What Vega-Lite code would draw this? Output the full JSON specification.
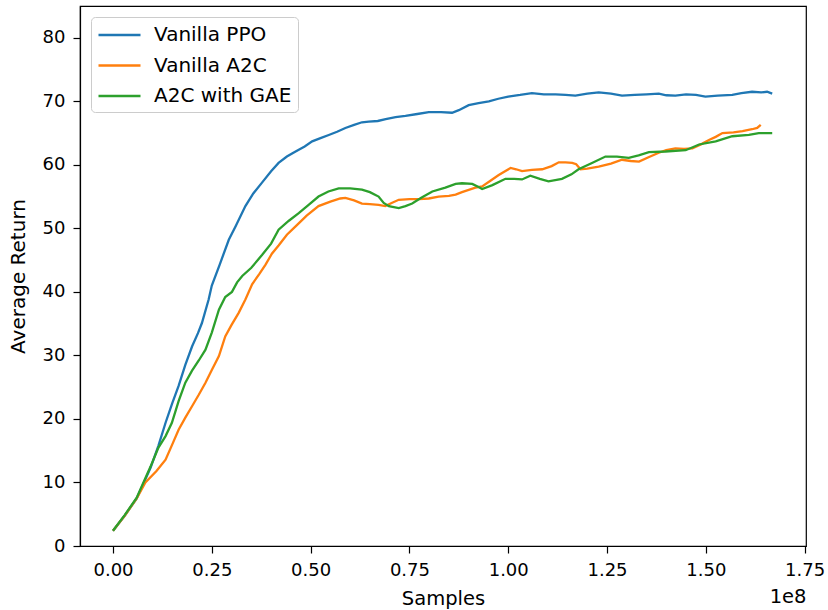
{
  "$schema": "https://vega.github.io/schema/vega-lite/v6.json",
  "width": 726,
  "height": 540,
  "autosize": {"type": "none"},
  "padding": {"left": 80, "top": 6, "right": 22, "bottom": 64},
  "background": "white",
  "config": {
    "font": "DejaVu Sans",
    "view": {"stroke": "black", "strokeWidth": 1.2},
    "axis": {"grid": false, "domainColor": "black", "domainWidth": 1.2, "tickColor": "black", "tickWidth": 1.2, "tickSize": 7, "labelColor": "black", "titleColor": "black", "labelFont": "DejaVu Sans", "titleFont": "DejaVu Sans", "titleFontWeight": "normal"}
  },
  "datasets": {
    "main": [
      {"algorithm":"Vanilla PPO","samples":0,"return":2.4},
      {"algorithm":"Vanilla PPO","samples":3000000,"return":4.8},
      {"algorithm":"Vanilla PPO","samples":6000000,"return":7.5},
      {"algorithm":"Vanilla PPO","samples":9500000,"return":12.3},
      {"algorithm":"Vanilla PPO","samples":11500000,"return":15.8},
      {"algorithm":"Vanilla PPO","samples":13300000,"return":19.4},
      {"algorithm":"Vanilla PPO","samples":15000000,"return":22.5},
      {"algorithm":"Vanilla PPO","samples":16600000,"return":25.2},
      {"algorithm":"Vanilla PPO","samples":18300000,"return":28.5},
      {"algorithm":"Vanilla PPO","samples":20000000,"return":31.4},
      {"algorithm":"Vanilla PPO","samples":21500000,"return":33.5},
      {"algorithm":"Vanilla PPO","samples":22500000,"return":35.1},
      {"algorithm":"Vanilla PPO","samples":24200000,"return":38.8},
      {"algorithm":"Vanilla PPO","samples":25000000,"return":41.0},
      {"algorithm":"Vanilla PPO","samples":27000000,"return":44.3},
      {"algorithm":"Vanilla PPO","samples":29300000,"return":48.2},
      {"algorithm":"Vanilla PPO","samples":31000000,"return":50.3},
      {"algorithm":"Vanilla PPO","samples":33500000,"return":53.5},
      {"algorithm":"Vanilla PPO","samples":35500000,"return":55.5},
      {"algorithm":"Vanilla PPO","samples":37700000,"return":57.2},
      {"algorithm":"Vanilla PPO","samples":40000000,"return":59.0},
      {"algorithm":"Vanilla PPO","samples":41900000,"return":60.3},
      {"algorithm":"Vanilla PPO","samples":44000000,"return":61.3},
      {"algorithm":"Vanilla PPO","samples":46200000,"return":62.1},
      {"algorithm":"Vanilla PPO","samples":48500000,"return":62.9},
      {"algorithm":"Vanilla PPO","samples":50400000,"return":63.7},
      {"algorithm":"Vanilla PPO","samples":52500000,"return":64.2},
      {"algorithm":"Vanilla PPO","samples":54600000,"return":64.7},
      {"algorithm":"Vanilla PPO","samples":56700000,"return":65.2},
      {"algorithm":"Vanilla PPO","samples":58800000,"return":65.8},
      {"algorithm":"Vanilla PPO","samples":61000000,"return":66.3},
      {"algorithm":"Vanilla PPO","samples":63000000,"return":66.7},
      {"algorithm":"Vanilla PPO","samples":64700000,"return":66.8},
      {"algorithm":"Vanilla PPO","samples":67000000,"return":66.9},
      {"algorithm":"Vanilla PPO","samples":69000000,"return":67.2},
      {"algorithm":"Vanilla PPO","samples":71500000,"return":67.5},
      {"algorithm":"Vanilla PPO","samples":74000000,"return":67.7},
      {"algorithm":"Vanilla PPO","samples":77000000,"return":68.0},
      {"algorithm":"Vanilla PPO","samples":79900000,"return":68.3},
      {"algorithm":"Vanilla PPO","samples":83000000,"return":68.3},
      {"algorithm":"Vanilla PPO","samples":85800000,"return":68.2},
      {"algorithm":"Vanilla PPO","samples":87500000,"return":68.6},
      {"algorithm":"Vanilla PPO","samples":90000000,"return":69.4},
      {"algorithm":"Vanilla PPO","samples":92500000,"return":69.7},
      {"algorithm":"Vanilla PPO","samples":95100000,"return":70.0},
      {"algorithm":"Vanilla PPO","samples":97500000,"return":70.4},
      {"algorithm":"Vanilla PPO","samples":100000000,"return":70.75},
      {"algorithm":"Vanilla PPO","samples":103000000,"return":71.0},
      {"algorithm":"Vanilla PPO","samples":106000000,"return":71.3},
      {"algorithm":"Vanilla PPO","samples":109000000,"return":71.1},
      {"algorithm":"Vanilla PPO","samples":112000000,"return":71.1},
      {"algorithm":"Vanilla PPO","samples":114500000,"return":71.0},
      {"algorithm":"Vanilla PPO","samples":117000000,"return":70.9},
      {"algorithm":"Vanilla PPO","samples":120000000,"return":71.2},
      {"algorithm":"Vanilla PPO","samples":122900000,"return":71.4},
      {"algorithm":"Vanilla PPO","samples":126000000,"return":71.2},
      {"algorithm":"Vanilla PPO","samples":128800000,"return":70.9},
      {"algorithm":"Vanilla PPO","samples":132000000,"return":71.0},
      {"algorithm":"Vanilla PPO","samples":135000000,"return":71.1},
      {"algorithm":"Vanilla PPO","samples":138100000,"return":71.2},
      {"algorithm":"Vanilla PPO","samples":140000000,"return":70.95},
      {"algorithm":"Vanilla PPO","samples":142300000,"return":70.9},
      {"algorithm":"Vanilla PPO","samples":145000000,"return":71.1},
      {"algorithm":"Vanilla PPO","samples":147500000,"return":71.0},
      {"algorithm":"Vanilla PPO","samples":149900000,"return":70.75},
      {"algorithm":"Vanilla PPO","samples":153000000,"return":70.9},
      {"algorithm":"Vanilla PPO","samples":156700000,"return":71.0},
      {"algorithm":"Vanilla PPO","samples":159000000,"return":71.3},
      {"algorithm":"Vanilla PPO","samples":161700000,"return":71.5},
      {"algorithm":"Vanilla PPO","samples":164000000,"return":71.4},
      {"algorithm":"Vanilla PPO","samples":165500000,"return":71.5},
      {"algorithm":"Vanilla PPO","samples":166800000,"return":71.2},
      {"algorithm":"Vanilla A2C","samples":0,"return":2.4},
      {"algorithm":"Vanilla A2C","samples":3000000,"return":4.8},
      {"algorithm":"Vanilla A2C","samples":6000000,"return":7.5},
      {"algorithm":"Vanilla A2C","samples":8200000,"return":10.0},
      {"algorithm":"Vanilla A2C","samples":11000000,"return":11.8},
      {"algorithm":"Vanilla A2C","samples":13300000,"return":13.6},
      {"algorithm":"Vanilla A2C","samples":15000000,"return":16.0},
      {"algorithm":"Vanilla A2C","samples":16600000,"return":18.3},
      {"algorithm":"Vanilla A2C","samples":18300000,"return":20.2},
      {"algorithm":"Vanilla A2C","samples":20000000,"return":22.0},
      {"algorithm":"Vanilla A2C","samples":21700000,"return":23.8},
      {"algorithm":"Vanilla A2C","samples":23400000,"return":25.7},
      {"algorithm":"Vanilla A2C","samples":25000000,"return":27.7},
      {"algorithm":"Vanilla A2C","samples":26800000,"return":29.9},
      {"algorithm":"Vanilla A2C","samples":28400000,"return":33.0},
      {"algorithm":"Vanilla A2C","samples":30000000,"return":34.8},
      {"algorithm":"Vanilla A2C","samples":31800000,"return":36.7},
      {"algorithm":"Vanilla A2C","samples":33500000,"return":38.8},
      {"algorithm":"Vanilla A2C","samples":35200000,"return":41.2},
      {"algorithm":"Vanilla A2C","samples":37000000,"return":42.8},
      {"algorithm":"Vanilla A2C","samples":38600000,"return":44.3},
      {"algorithm":"Vanilla A2C","samples":40200000,"return":46.0},
      {"algorithm":"Vanilla A2C","samples":41900000,"return":47.3},
      {"algorithm":"Vanilla A2C","samples":44000000,"return":49.0},
      {"algorithm":"Vanilla A2C","samples":46200000,"return":50.3},
      {"algorithm":"Vanilla A2C","samples":49000000,"return":52.0},
      {"algorithm":"Vanilla A2C","samples":52000000,"return":53.5},
      {"algorithm":"Vanilla A2C","samples":55000000,"return":54.2},
      {"algorithm":"Vanilla A2C","samples":57500000,"return":54.7},
      {"algorithm":"Vanilla A2C","samples":58800000,"return":54.8},
      {"algorithm":"Vanilla A2C","samples":61000000,"return":54.4},
      {"algorithm":"Vanilla A2C","samples":63000000,"return":53.9},
      {"algorithm":"Vanilla A2C","samples":65000000,"return":53.8},
      {"algorithm":"Vanilla A2C","samples":67200000,"return":53.7},
      {"algorithm":"Vanilla A2C","samples":68900000,"return":53.5},
      {"algorithm":"Vanilla A2C","samples":70500000,"return":54.0},
      {"algorithm":"Vanilla A2C","samples":72300000,"return":54.5},
      {"algorithm":"Vanilla A2C","samples":75000000,"return":54.6},
      {"algorithm":"Vanilla A2C","samples":77400000,"return":54.6},
      {"algorithm":"Vanilla A2C","samples":79900000,"return":54.7},
      {"algorithm":"Vanilla A2C","samples":82400000,"return":55.0},
      {"algorithm":"Vanilla A2C","samples":85000000,"return":55.1},
      {"algorithm":"Vanilla A2C","samples":86700000,"return":55.3},
      {"algorithm":"Vanilla A2C","samples":88300000,"return":55.7},
      {"algorithm":"Vanilla A2C","samples":91700000,"return":56.4},
      {"algorithm":"Vanilla A2C","samples":93400000,"return":56.6},
      {"algorithm":"Vanilla A2C","samples":95500000,"return":57.5},
      {"algorithm":"Vanilla A2C","samples":97600000,"return":58.4},
      {"algorithm":"Vanilla A2C","samples":99200000,"return":59.0},
      {"algorithm":"Vanilla A2C","samples":100600000,"return":59.5},
      {"algorithm":"Vanilla A2C","samples":102000000,"return":59.3},
      {"algorithm":"Vanilla A2C","samples":103500000,"return":59.0},
      {"algorithm":"Vanilla A2C","samples":106000000,"return":59.2},
      {"algorithm":"Vanilla A2C","samples":108600000,"return":59.3},
      {"algorithm":"Vanilla A2C","samples":111000000,"return":59.8},
      {"algorithm":"Vanilla A2C","samples":112800000,"return":60.4},
      {"algorithm":"Vanilla A2C","samples":114500000,"return":60.4},
      {"algorithm":"Vanilla A2C","samples":116200000,"return":60.3},
      {"algorithm":"Vanilla A2C","samples":117200000,"return":60.1},
      {"algorithm":"Vanilla A2C","samples":118300000,"return":59.3},
      {"algorithm":"Vanilla A2C","samples":120000000,"return":59.4},
      {"algorithm":"Vanilla A2C","samples":122900000,"return":59.7},
      {"algorithm":"Vanilla A2C","samples":126000000,"return":60.2},
      {"algorithm":"Vanilla A2C","samples":128800000,"return":60.8},
      {"algorithm":"Vanilla A2C","samples":131000000,"return":60.6},
      {"algorithm":"Vanilla A2C","samples":133100000,"return":60.5},
      {"algorithm":"Vanilla A2C","samples":135500000,"return":61.2},
      {"algorithm":"Vanilla A2C","samples":138100000,"return":61.9},
      {"algorithm":"Vanilla A2C","samples":140000000,"return":62.3},
      {"algorithm":"Vanilla A2C","samples":142300000,"return":62.6},
      {"algorithm":"Vanilla A2C","samples":144500000,"return":62.5},
      {"algorithm":"Vanilla A2C","samples":146600000,"return":62.6},
      {"algorithm":"Vanilla A2C","samples":149000000,"return":63.3},
      {"algorithm":"Vanilla A2C","samples":150800000,"return":63.9},
      {"algorithm":"Vanilla A2C","samples":152500000,"return":64.4},
      {"algorithm":"Vanilla A2C","samples":154200000,"return":65.0},
      {"algorithm":"Vanilla A2C","samples":157000000,"return":65.1},
      {"algorithm":"Vanilla A2C","samples":159300000,"return":65.3},
      {"algorithm":"Vanilla A2C","samples":161700000,"return":65.6},
      {"algorithm":"Vanilla A2C","samples":163000000,"return":65.8},
      {"algorithm":"Vanilla A2C","samples":163900000,"return":66.3}
    ],
    "gae": [
      {"algorithm":"A2C with GAE","samples":0,"return":2.4},
      {"algorithm":"A2C with GAE","samples":3000000,"return":4.9},
      {"algorithm":"A2C with GAE","samples":6000000,"return":7.6},
      {"algorithm":"A2C with GAE","samples":9500000,"return":12.5},
      {"algorithm":"A2C with GAE","samples":11500000,"return":15.5},
      {"algorithm":"A2C with GAE","samples":13300000,"return":17.3},
      {"algorithm":"A2C with GAE","samples":14900000,"return":19.4},
      {"algorithm":"A2C with GAE","samples":16600000,"return":22.8},
      {"algorithm":"A2C with GAE","samples":18300000,"return":25.7},
      {"algorithm":"A2C with GAE","samples":20000000,"return":27.6},
      {"algorithm":"A2C with GAE","samples":21700000,"return":29.2},
      {"algorithm":"A2C with GAE","samples":23400000,"return":30.9},
      {"algorithm":"A2C with GAE","samples":25000000,"return":33.6},
      {"algorithm":"A2C with GAE","samples":26800000,"return":37.2},
      {"algorithm":"A2C with GAE","samples":28400000,"return":39.2},
      {"algorithm":"A2C with GAE","samples":30100000,"return":40.0},
      {"algorithm":"A2C with GAE","samples":31400000,"return":41.5},
      {"algorithm":"A2C with GAE","samples":32700000,"return":42.5},
      {"algorithm":"A2C with GAE","samples":35000000,"return":43.8},
      {"algorithm":"A2C with GAE","samples":37700000,"return":45.8},
      {"algorithm":"A2C with GAE","samples":40000000,"return":47.6},
      {"algorithm":"A2C with GAE","samples":41900000,"return":49.8},
      {"algorithm":"A2C with GAE","samples":44500000,"return":51.2},
      {"algorithm":"A2C with GAE","samples":47000000,"return":52.4},
      {"algorithm":"A2C with GAE","samples":49500000,"return":53.7},
      {"algorithm":"A2C with GAE","samples":52000000,"return":55.0},
      {"algorithm":"A2C with GAE","samples":54500000,"return":55.8},
      {"algorithm":"A2C with GAE","samples":57100000,"return":56.3},
      {"algorithm":"A2C with GAE","samples":60000000,"return":56.3},
      {"algorithm":"A2C with GAE","samples":63000000,"return":56.1},
      {"algorithm":"A2C with GAE","samples":65000000,"return":55.7},
      {"algorithm":"A2C with GAE","samples":67200000,"return":55.0},
      {"algorithm":"A2C with GAE","samples":68500000,"return":54.0},
      {"algorithm":"A2C with GAE","samples":69800000,"return":53.5},
      {"algorithm":"A2C with GAE","samples":72300000,"return":53.2},
      {"algorithm":"A2C with GAE","samples":74000000,"return":53.5},
      {"algorithm":"A2C with GAE","samples":75700000,"return":53.9},
      {"algorithm":"A2C with GAE","samples":78000000,"return":54.8},
      {"algorithm":"A2C with GAE","samples":80800000,"return":55.8},
      {"algorithm":"A2C with GAE","samples":84100000,"return":56.4},
      {"algorithm":"A2C with GAE","samples":86700000,"return":57.0},
      {"algorithm":"A2C with GAE","samples":88300000,"return":57.1},
      {"algorithm":"A2C with GAE","samples":90900000,"return":57.0},
      {"algorithm":"A2C with GAE","samples":92500000,"return":56.5},
      {"algorithm":"A2C with GAE","samples":93400000,"return":56.2},
      {"algorithm":"A2C with GAE","samples":96000000,"return":56.8},
      {"algorithm":"A2C with GAE","samples":99300000,"return":57.8},
      {"algorithm":"A2C with GAE","samples":101500000,"return":57.8},
      {"algorithm":"A2C with GAE","samples":103500000,"return":57.7},
      {"algorithm":"A2C with GAE","samples":105600000,"return":58.3},
      {"algorithm":"A2C with GAE","samples":108000000,"return":57.8},
      {"algorithm":"A2C with GAE","samples":110200000,"return":57.4},
      {"algorithm":"A2C with GAE","samples":113600000,"return":57.8},
      {"algorithm":"A2C with GAE","samples":116000000,"return":58.5},
      {"algorithm":"A2C with GAE","samples":117800000,"return":59.3},
      {"algorithm":"A2C with GAE","samples":121200000,"return":60.3},
      {"algorithm":"A2C with GAE","samples":124600000,"return":61.3},
      {"algorithm":"A2C with GAE","samples":127500000,"return":61.3},
      {"algorithm":"A2C with GAE","samples":130500000,"return":61.1},
      {"algorithm":"A2C with GAE","samples":133000000,"return":61.5},
      {"algorithm":"A2C with GAE","samples":135600000,"return":62.0},
      {"algorithm":"A2C with GAE","samples":139800000,"return":62.1},
      {"algorithm":"A2C with GAE","samples":144900000,"return":62.3},
      {"algorithm":"A2C with GAE","samples":148300000,"return":63.2},
      {"algorithm":"A2C with GAE","samples":152500000,"return":63.7},
      {"algorithm":"A2C with GAE","samples":156700000,"return":64.5},
      {"algorithm":"A2C with GAE","samples":160900000,"return":64.7},
      {"algorithm":"A2C with GAE","samples":163400000,"return":65.0},
      {"algorithm":"A2C with GAE","samples":166800000,"return":65.0}
    ]
  },
  "encoding": {
    "y": {
      "field": "return", "type": "quantitative",
      "scale": {"domain": [0, 85], "nice": false, "zero": false},
      "axis": {"title": "Average Return", "values": [0,10,20,30,40,50,60,70,80], "labelFontSize": 18, "titleFontSize": 20, "labelPadding": 8, "titlePadding": 14}
    },
    "color": {
      "field": "algorithm", "type": "nominal",
      "scale": {"domain": ["Vanilla PPO", "Vanilla A2C", "A2C with GAE"], "range": ["#1f77b4", "#ff7f0e", "#2ca02c"]},
      "legend": {
        "title": null, "orient": "top-left", "offset": 11,
        "symbolType": "M-1,0H3", "symbolSize": 441, "symbolStrokeWidth": 2.5,
        "labelFontSize": 20, "labelColor": "black", "labelFont": "DejaVu Sans", "labelOffset": 33,
        "fillColor": "rgba(255,255,255,0.8)", "strokeColor": "#cccccc", "cornerRadius": 4,
        "padding": 6, "rowPadding": 8.5
      }
    }
  },
  "layer": [
    {
      "data": {"name": "main"},
      "mark": {"type": "line", "strokeWidth": 2.3, "clip": true},
      "encoding": {
        "x": {
          "field": "samples", "type": "quantitative",
          "scale": {"domain": [-8350000, 175350000], "nice": false, "zero": false},
          "axis": {"title": "Samples", "orient": "bottom", "values": [0,25000000,50000000,75000000,100000000,125000000,150000000,175000000], "labelExpr": "format(datum.value / 100000000, '.2f')", "labelFontSize": 18, "titleFontSize": 19.5, "labelPadding": 8, "titlePadding": 10}
        }
      }
    },
    {
      "data": {"name": "gae"},
      "mark": {"type": "line", "strokeWidth": 2.3, "clip": true},
      "encoding": {
        "x": {
          "field": "samples", "type": "quantitative",
          "axis": {"title": "1e8", "orient": "bottom", "labels": false, "ticks": false, "domain": false, "titleAnchor": "end", "titleAlign": "right", "titleFontSize": 19.5, "titlePadding": 41}
        }
      }
    }
  ],
  "resolve": {"axis": {"x": "independent"}}
}
